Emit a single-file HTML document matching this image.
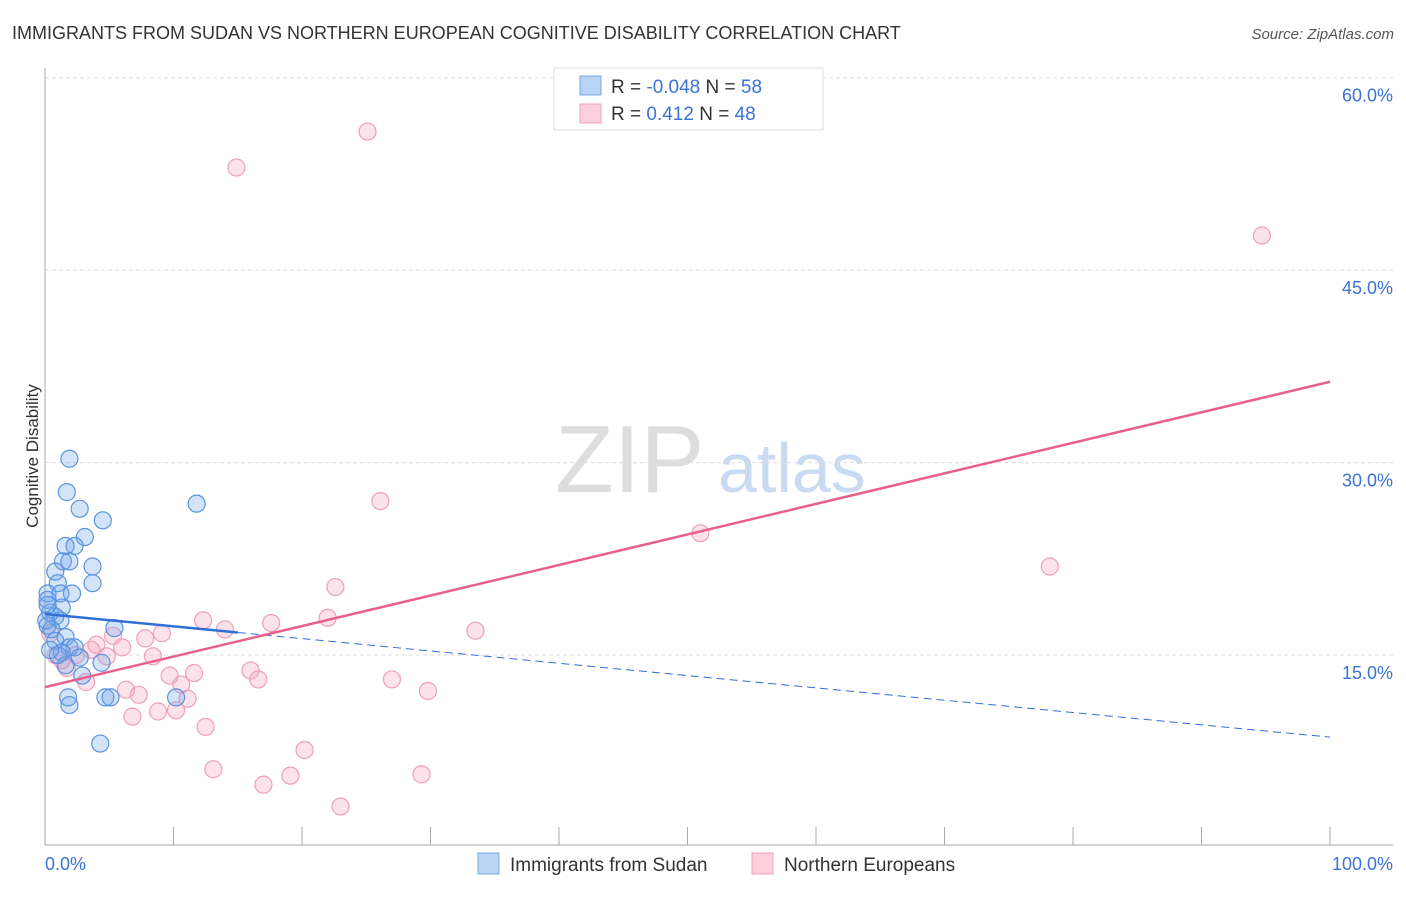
<!DOCTYPE html><html><head><meta charset="utf-8"><style>
body{margin:0;background:#fff;font-family:"Liberation Sans",sans-serif}
svg text{font-family:"Liberation Sans",sans-serif}
</style></head><body>
<svg width="1406" height="892" id="c">
<text x="12" y="39" font-size="18" fill="#333">IMMIGRANTS FROM SUDAN VS NORTHERN EUROPEAN COGNITIVE DISABILITY CORRELATION CHART</text>
<text x="1394" y="39" font-size="15" fill="#555" font-style="italic" text-anchor="end">Source: ZipAtlas.com</text>
<text x="38" y="456" font-size="17" fill="#333" transform="rotate(-90 38 456)" text-anchor="middle">Cognitive Disability</text>
<text x="555" y="492" font-size="96" fill="#ddd" font-family="Liberation Serif">ZIP</text>
<text x="718" y="492" font-size="70" fill="#c9dbf2">atlas</text>
<g id="grid"></g><g id="axes"></g><g id="pts"></g><g id="lines"></g>
<g>
<rect x="554" y="68" width="269" height="62" fill="#fff" stroke="#ddd"/>
<rect x="580" y="76" width="21" height="19" fill="#b8d4f5" stroke="#7aa8e6"/>
<rect x="580" y="104" width="21" height="19" fill="#fbcfdc" stroke="#f0a0b8"/>
<text x="611" y="93" font-size="19" fill="#333">R = <tspan fill="#3b73d4">-0.048</tspan>   N = <tspan fill="#3b73d4">58</tspan></text>
<text x="611" y="120" font-size="19" fill="#333">R =    <tspan fill="#3b73d4">0.412</tspan>   N = <tspan fill="#3b73d4">48</tspan></text>
</g>
<g>
<rect x="478" y="853" width="21" height="21" fill="#b8d4f5" stroke="#7aa8e6"/>
<text x="510" y="871" font-size="19" fill="#333">Immigrants from Sudan</text>
<rect x="752" y="853" width="21" height="21" fill="#fbcfdc" stroke="#f0a0b8"/>
<text x="784" y="871" font-size="19" fill="#333">Northern Europeans</text>
</g>
</svg>
<script>
const yTicks=[15,30,45,60];
const yTickLabels=["15.0%","30.0%","45.0%","60.0%"];
const xTickLabels=["0.0%","100.0%"];
const blueX=[1.9,1.7,11.8,2.7,4.5,3.1,1.6,2.3,1.4,1.9,3.7,0.8,1.0,3.7,0.2,1.2,2.1,0.2,1.3,0.4,0.8,1.2,0.2,0.5,5.4,1.6,0.8,1.9,2.3,1.3,2.7,1.6,2.9,4.4,1.8,1.9,4.7,5.1,10.2,4.3,0.2,0.1,0.4,1.0];
const blueY=[30.3,27.7,26.8,26.4,25.5,24.2,23.5,23.5,22.3,22.3,21.9,21.5,20.6,20.6,19.8,19.8,19.8,19.3,18.7,18.3,18.0,17.7,17.3,17.0,17.1,16.4,16.1,15.6,15.6,15.2,14.8,14.2,13.4,14.4,11.7,11.1,11.7,11.7,11.7,8.1,18.9,17.7,15.4,15.0];
const pinkX=[25.1,14.9,94.7,26.1,51.0,78.2,22.6,12.3,14.0,17.6,22.0,33.5,9.1,7.8,5.3,4.0,6.0,3.6,8.4,4.8,1.7,16.0,9.7,11.6,10.6,16.6,27.0,29.8,3.2,6.3,7.3,11.1,8.8,10.2,6.8,12.5,20.2,13.1,19.1,29.3,17.0,23.0,0.4,0.8,1.3,2.4];
const pinkY=[55.8,53.0,47.7,27.0,24.5,21.9,20.3,17.7,17.0,17.5,17.9,16.9,16.7,16.3,16.5,15.8,15.6,15.4,14.9,14.9,14.0,13.8,13.4,13.6,12.7,13.1,13.1,12.2,12.9,12.3,11.9,11.6,10.6,10.7,10.2,9.4,7.6,6.1,5.6,5.7,4.9,3.2,16.7,15.0,14.6,15.0];
const blueFit=[18.2,-0.096];
const pinkFit=[12.5,0.238];
const X=v=>45+v*12.85, Y=v=>847.5-v*12.83;
const NS="http://www.w3.org/2000/svg";
function mk(t,a,p){const e=document.createElementNS(NS,t);for(const k in a)e.setAttribute(k,a[k]);document.getElementById(p).appendChild(e);return e;}
yTicks.forEach((v,i)=>{
 const l=mk('line',{x1:45,x2:1393,y1:Y(v),y2:Y(v),stroke:'#ddd','stroke-dasharray':'4 3'},'grid');
 
 
 const t=mk('text',{x:1393,y:Y(v)+24,'font-size':18,fill:'#3b73d4','text-anchor':'end'},'grid');t.textContent=yTickLabels[i];
 
 
});
let a=mk('line',{x1:45,x2:45,y1:68,y2:845,stroke:'#aaa'},'axes');


a=mk('line',{x1:45,x2:1393,y1:845,y2:845,stroke:'#aaa'},'axes');


for(let i=0;i<=10;i++){const t=mk('line',{x1:X(i*10),x2:X(i*10),y1:827,y2:845,stroke:'#aaa'},'axes');
 
 }
[[0,'start'],[100,'end']].forEach((d,i)=>{const t=mk('text',{x:X(d[0])+(i?63:0),y:870,'font-size':18,fill:'#3b73d4','text-anchor':d[1]},'axes');t.textContent=xTickLabels[i];
 
 });
pinkX.forEach((v,i)=>{const c=mk('circle',{cx:X(v),cy:Y(pinkY[i]),r:8.5,fill:'rgba(245,160,190,0.3)',stroke:'#eea0b8','stroke-width':1.2},'pts');
 
 });
blueX.forEach((v,i)=>{const c=mk('circle',{cx:X(v),cy:Y(blueY[i]),r:8.5,fill:'rgba(110,165,235,0.3)',stroke:'#5b93e0','stroke-width':1.2},'pts');
 
 });
const bf=v=>blueFit[0]+blueFit[1]*v, pf=v=>pinkFit[0]+pinkFit[1]*v;
let l=mk('line',{x1:X(0),y1:Y(bf(0)),x2:X(15),y2:Y(bf(15)),stroke:'#2f6fd6','stroke-width':2.5},'lines');


l=mk('line',{x1:X(15),y1:Y(bf(15)),x2:X(100),y2:Y(bf(100)),stroke:'#2f6fd6','stroke-width':1,'stroke-dasharray':'8 5'},'lines');


l=mk('line',{x1:X(0),y1:Y(pf(0)),x2:X(100),y2:Y(pf(100)),stroke:'#e8608a','stroke-width':2.5},'lines');


</script>
</body></html>
